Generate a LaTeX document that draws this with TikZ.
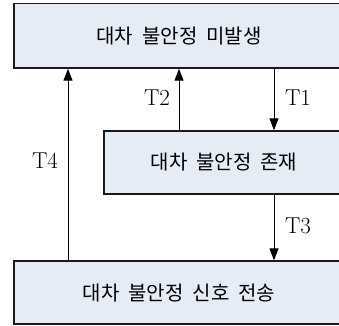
\documentclass[tikz,border=0pt]{standalone}
\usepackage{fontspec}
\newfontfamily\kr{Noto Sans CJK KR}
\usetikzlibrary{arrows.meta}
\definecolor{boxfill}{HTML}{E6ECF6}
\definecolor{boxline}{HTML}{1A1A1A}
\tikzset{
  statebox/.style={draw=boxline, fill=boxfill, line width=1.4pt, inner sep=0pt,
    font=\kr\fontsize{20}{24}\selectfont},
  arr/.style={line width=1pt, -{Triangle[length=12pt,width=9pt]}},
  tlabel/.style={font=\fontsize{23}{26}\selectfont, inner sep=0pt}
}
\begin{document}
\begin{tikzpicture}[x=1pt,y=-1pt]
\useasboundingbox (0,0) rectangle (339,325);
\clip (0,0) rectangle (339,325);
\node[statebox, minimum width=330pt, minimum height=64.5pt] (top) at (179,35.75) {대차\ \ 불안정\ \ 미발생};
\node[statebox, minimum width=240pt, minimum height=63pt] (mid) at (224,162.5) {대차\ \ 불안정\ \ 존재};
\node[statebox, minimum width=330pt, minimum height=63pt] (bot) at (179,292.5) {대차\ \ 불안정\ \ 신호\ \ 전송};
\coordinate (x4) at (68,0);
\coordinate (x2) at (179,0);
\coordinate (x1) at (274,0);
\draw[arr] (bot.north -| x4) -- (top.south -| x4);
\draw[arr] (mid.north -| x2) -- (top.south -| x2);
\draw[arr] (top.south -| x1) -- (mid.north -| x1);
\draw[arr] (mid.south -| x1) -- (bot.north -| x1);
\node[tlabel] (t4) at (45,161) {T4};
\node[tlabel] (t2) at (157,98) {T2};
\node[tlabel] (t1) at (298,98) {T1};
\node[tlabel] (t3) at (298,226) {T3};
\end{tikzpicture}
\end{document}
